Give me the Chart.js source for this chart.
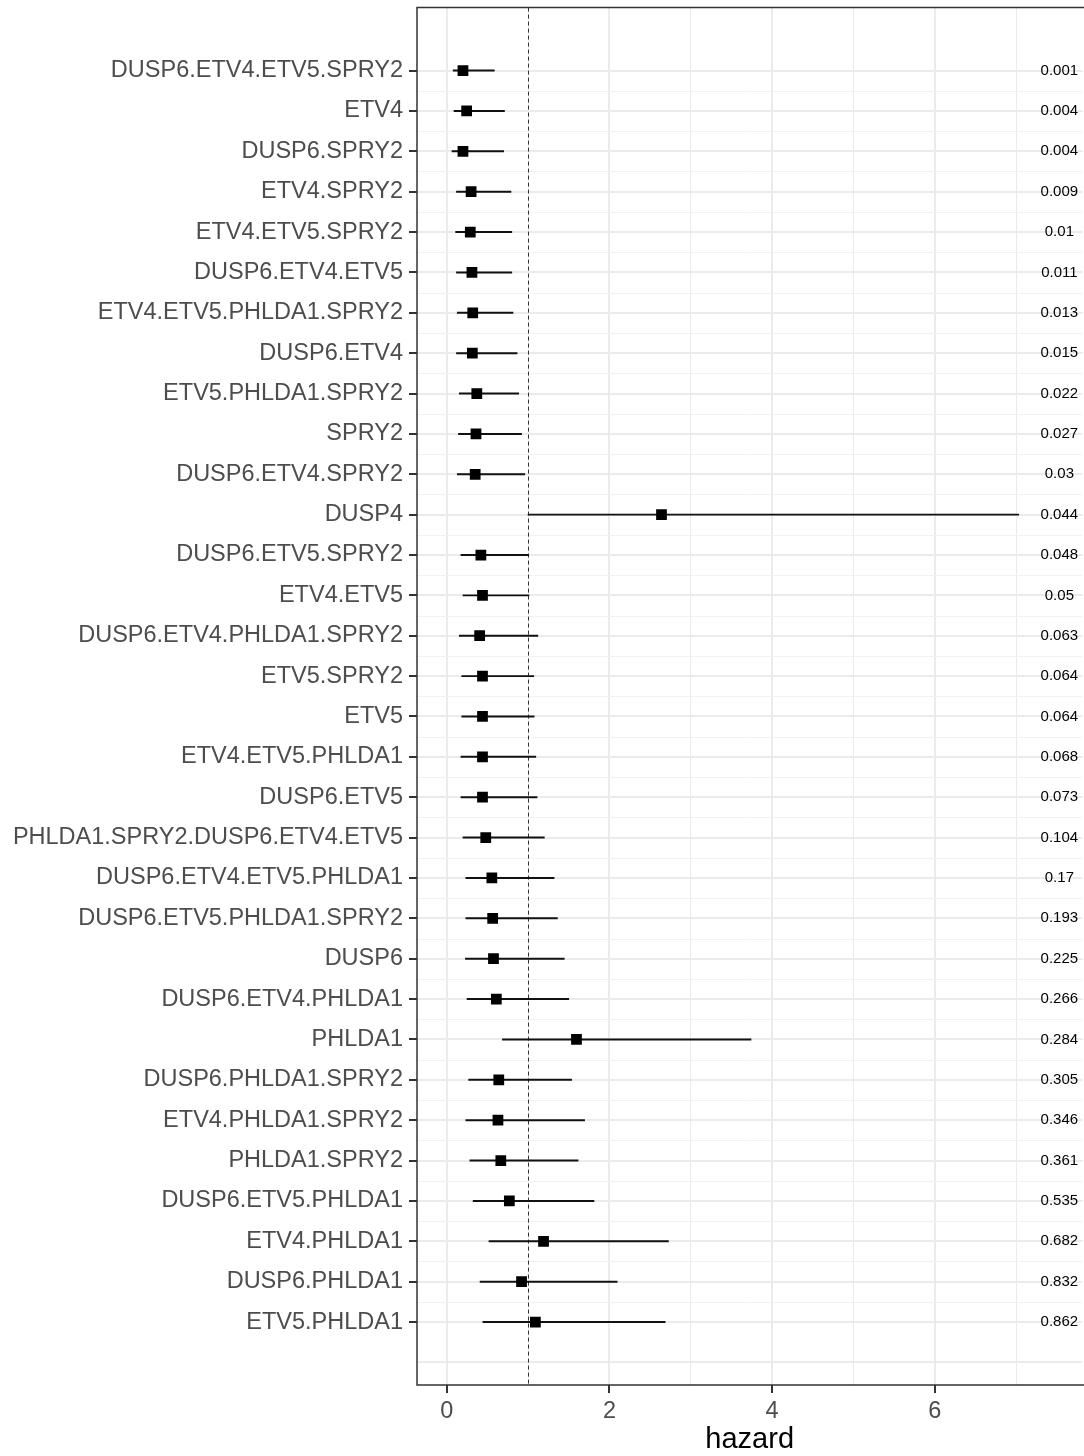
<!DOCTYPE html>
<html lang="en">
<head>
  <meta charset="UTF-8" />
  <title>Hazard forest plot</title>
  <script src="https://cdn.jsdelivr.net/npm/chart.js"></script>
  <style>
    html, body {
      margin: 0;
      padding: 0;
      background: #ffffff;
      overflow: hidden;
    }
    .wrap {
      position: absolute;
      left: 0;
      top: 0;
      width: 1090px;
      height: 1456px;
    }
  </style>
</head>
<body>
  <div class="wrap">
    <canvas id="forest" width="1090" height="1456" style="width:1090px;height:1456px"></canvas>
  </div>

  <script>
    // rows, top to bottom
    const rowLabels = [
      "DUSP6.ETV4.ETV5.SPRY2", "ETV4", "DUSP6.SPRY2", "ETV4.SPRY2",
      "ETV4.ETV5.SPRY2", "DUSP6.ETV4.ETV5", "ETV4.ETV5.PHLDA1.SPRY2", "DUSP6.ETV4",
      "ETV5.PHLDA1.SPRY2", "SPRY2", "DUSP6.ETV4.SPRY2", "DUSP4",
      "DUSP6.ETV5.SPRY2", "ETV4.ETV5", "DUSP6.ETV4.PHLDA1.SPRY2", "ETV5.SPRY2",
      "ETV5", "ETV4.ETV5.PHLDA1", "DUSP6.ETV5", "PHLDA1.SPRY2.DUSP6.ETV4.ETV5",
      "DUSP6.ETV4.ETV5.PHLDA1", "DUSP6.ETV5.PHLDA1.SPRY2", "DUSP6", "DUSP6.ETV4.PHLDA1",
      "PHLDA1", "DUSP6.PHLDA1.SPRY2", "ETV4.PHLDA1.SPRY2", "PHLDA1.SPRY2",
      "DUSP6.ETV5.PHLDA1", "ETV4.PHLDA1", "DUSP6.PHLDA1", "ETV5.PHLDA1"
    ];
    const hazard = [
      0.20, 0.245, 0.20, 0.30, 0.29, 0.31, 0.32, 0.315,
      0.37, 0.36, 0.35, 2.64, 0.42, 0.44, 0.405, 0.44,
      0.44, 0.44, 0.44, 0.48, 0.555, 0.565, 0.575, 0.61,
      1.595, 0.64, 0.63, 0.665, 0.77, 1.19, 0.92, 1.09
    ];
    const lower = [
      0.08, 0.09, 0.065, 0.12, 0.11, 0.12, 0.13, 0.12,
      0.155, 0.145, 0.13, 1.00, 0.175, 0.20, 0.155, 0.185,
      0.185, 0.175, 0.175, 0.20, 0.235, 0.235, 0.23, 0.25,
      0.685, 0.27, 0.235, 0.285, 0.325, 0.52, 0.41, 0.445
    ];
    const upper = [
      0.585, 0.71, 0.70, 0.79, 0.80, 0.80, 0.815, 0.865,
      0.885, 0.92, 0.96, 7.03, 1.005, 1.01, 1.12, 1.07,
      1.075, 1.095, 1.11, 1.20, 1.32, 1.36, 1.445, 1.50,
      3.74, 1.535, 1.695, 1.615, 1.81, 2.725, 2.095, 2.685
    ];
    const pValues = [
      "0.001", "0.004", "0.004", "0.009", "0.01", "0.011", "0.013", "0.015",
      "0.022", "0.027", "0.03", "0.044", "0.048", "0.05", "0.063", "0.064",
      "0.064", "0.068", "0.073", "0.104", "0.17", "0.193", "0.225", "0.266",
      "0.284", "0.305", "0.346", "0.361", "0.535", "0.682", "0.832", "0.862"
    ];
    const xTicks = [0, 1, 2, 3, 4, 5, 6, 7];
    const refHazard = 1;
    const pLabelX = 7.53;

    const rows = rowLabels.map((_, i) => i + 1);
    const yTicks = rows.concat([rows.length + 1]); // extra empty line at the bottom

    const font = "'Liberation Sans', Arial, sans-serif";

    function noPad(s) {
      s.paddingTop = 0;
      s.paddingBottom = 0;
      s.paddingLeft = 0;
      s.paddingRight = 0;
    }

    const panelDecor = {
      id: "panelDecor",
      beforeDatasetsDraw(chart) {
        const { ctx, chartArea: a, scales: { x, y } } = chart;
        ctx.save();
        // minor horizontal grid
        ctx.strokeStyle = "#f2f2f2";
        ctx.lineWidth = 1;
        rows.slice(0, -1).forEach(r => {
          const py = Math.round(y.getPixelForValue(r + 0.5)) + 0.5;
          ctx.beginPath();
          ctx.moveTo(a.left, py);
          ctx.lineTo(a.right, py);
          ctx.stroke();
        });
        // reference line at hazard = 1
        const px = Math.round(x.getPixelForValue(refHazard)) + 0.5;
        ctx.strokeStyle = "#333333";
        ctx.setLineDash([4, 3]);
        ctx.beginPath();
        ctx.moveTo(px, a.top);
        ctx.lineTo(px, a.bottom);
        ctx.stroke();
        ctx.restore();
      },
      afterDatasetsDraw(chart) {
        const { ctx, chartArea: a, scales: { x, y } } = chart;
        ctx.save();
        ctx.fillStyle = "#000000";
        ctx.font = "15px " + font;
        ctx.textAlign = "center";
        ctx.textBaseline = "middle";
        const px = x.getPixelForValue(pLabelX);
        pValues.forEach((p, i) => {
          ctx.fillText(p, px, y.getPixelForValue(rows[i]));
        });
        // panel border (right edge falls outside the picture)
        ctx.strokeStyle = "#333333";
        ctx.lineWidth = 1.5;
        ctx.beginPath();
        ctx.moveTo(a.right + 2, a.top);
        ctx.lineTo(a.left, a.top);
        ctx.lineTo(a.left, a.bottom);
        ctx.lineTo(a.right + 2, a.bottom);
        ctx.stroke();
        ctx.restore();
      }
    };

    new Chart(document.getElementById("forest"), {
      type: "bar",
      data: {
        datasets: [
          {
            type: "scatter",
            data: rows.map((r, i) => ({ x: hazard[i], y: r })),
            pointStyle: "rect",
            pointRadius: 7.6,
            pointBorderWidth: 0,
            backgroundColor: "#000000",
            borderColor: "#000000"
          },
          {
            type: "bar",
            indexAxis: "y",
            data: rows.map((r, i) => ({ x: [lower[i], upper[i]], y: r })),
            backgroundColor: "#111111",
            borderWidth: 0,
            barThickness: 1.3
          }
        ]
      },
      options: {
        responsive: false,
        animation: false,
        layout: { padding: { top: 6, left: 0, right: 0, bottom: 0 } },
        plugins: {
          legend: { display: false },
          tooltip: { enabled: false }
        },
        scales: {
          x: {
            type: "linear",
            position: "bottom",
            offset: false,
            min: -0.365,
            max: 7.813,
            afterBuildTicks: s => { s.ticks = xTicks.map(v => ({ value: v })); },
            afterFit: s => { s.height = 71; noPad(s); },
            border: { display: false },
            grid: {
              offset: false,
              color: "#ebebeb",
              lineWidth: c => (c.tick && c.tick.value % 2 ? 1 : 2),
              tickColor: c => (c.tick && c.tick.value % 2 ? "rgba(0,0,0,0)" : "#333333"),
              tickWidth: 2,
              tickLength: 8
            },
            ticks: {
              autoSkip: false,
              maxRotation: 0,
              padding: 4,
              color: "#4d4d4d",
              font: { family: font, size: 23.5 },
              callback: v => (v % 2 === 0 ? String(v) : "")
            },
            title: {
              display: true,
              text: "hazard",
              color: "#000000",
              padding: { top: 0, bottom: 0 },
              font: { family: font, size: 29, lineHeight: 1.1 }
            }
          },
          y: {
            type: "linear",
            position: "left",
            offset: false,
            reverse: true,
            min: -0.56,
            max: 33.56,
            afterBuildTicks: s => { s.ticks = yTicks.map(v => ({ value: v })); },
            afterFit: s => { s.width = 417; noPad(s); },
            border: { display: false },
            grid: {
              offset: false,
              color: "#ebebeb",
              lineWidth: 2,
              tickColor: c => (c.tick && c.tick.value > rows.length ? "rgba(0,0,0,0)" : "#333333"),
              tickWidth: 2,
              tickLength: 8
            },
            ticks: {
              autoSkip: false,
              padding: 6,
              color: "#4d4d4d",
              font: { family: font, size: 23.5 },
              callback: v => rowLabels[v - 1] || ""
            }
          }
        }
      },
      plugins: [panelDecor]
    });
  </script>
</body>
</html>
